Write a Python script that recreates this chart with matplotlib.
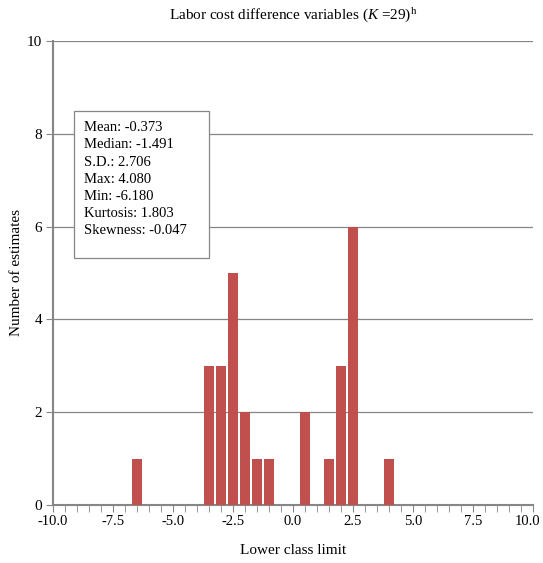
import numpy as np
import matplotlib.pyplot as plt
from matplotlib.patches import Rectangle
from matplotlib.ticker import MultipleLocator

# Histogram of labor cost difference estimates (lower class limits, 0.5 wide bins)
lower_limits = [-6.5, -3.5, -3.0, -2.5, -2.0, -1.5, -1.0, 0.5, 1.5, 2.0, 2.5, 4.0]
counts = [1, 3, 3, 5, 2, 1, 1, 2, 1, 3, 6, 1]
xticks = [-10.0, -7.5, -5.0, -2.5, 0.0, 2.5, 5.0, 7.5, 10.0]

stats_labels = ["Mean", "Median", "S.D.", "Max", "Min", "Kurtosis", "Skewness"]
stats_values = [-0.373, -1.491, 2.706, 4.080, -6.180, 1.803, -0.047]

plt.rcParams['font.family'] = ['Liberation Serif', 'DejaVu Serif']
plt.rcParams['mathtext.fontset'] = 'custom'
plt.rcParams['mathtext.rm'] = 'Liberation Serif'
plt.rcParams['mathtext.it'] = 'Liberation Serif:italic'

fig = plt.figure(figsize=(5.43, 5.63), dpi=100)
ax = fig.add_axes([53 / 543, 1 - 505 / 563, 480 / 543, 464 / 563])

ax.bar(lower_limits, counts, width=0.42, color="#C0504D", zorder=3)

# the last label is drawn separately, nudged left so it stays inside the figure
ax.set_xticks(xticks, [f"{v:.1f}" for v in xticks[:-1]] + [""])
ax.annotate(f"{xticks[-1]:.1f}", xy=(xticks[-1], 0), xycoords=("data", "axes fraction"),
            xytext=(-3.6, -7), textcoords="offset points", ha="center", va="top",
            fontsize=10.5, annotation_clip=False)
ax.xaxis.set_minor_locator(MultipleLocator(0.5))
ax.yaxis.set_major_locator(MultipleLocator(2))
ax.set_xlim(-10, 10)
ax.set_ylim(0, 10)

axis_grey = "#868686"
ax.grid(axis="y", color=axis_grey, linewidth=0.9, zorder=0)
for side in ["top", "right"]:
    ax.spines[side].set_visible(False)
for side in ["left", "bottom"]:
    ax.spines[side].set_color(axis_grey)
    ax.spines[side].set_linewidth(1.5)
ax.tick_params(axis="x", which="both", direction="out", length=5, color=axis_grey,
               labelsize=10.5, pad=2)
ax.tick_params(axis="y", which="both", direction="out", length=5, color=axis_grey,
               labelsize=11, pad=3)

ax.set_xlabel("Lower class limit", fontsize=11, labelpad=12)
ax.set_ylabel("Number of estimates", fontsize=11)
ax.yaxis.set_label_coords(-30 / 480, 0.5)
fig.text(0.5 * (53 + 533) / 543, 1 - 16 / 563,
         r"Labor cost difference variables ($\mathit{K}$ =29)$^{\mathrm{h}}$",
         ha="center", va="center", fontsize=11)

# Summary statistics box
ax.add_patch(Rectangle((-9.125, 5.32), 5.625, 3.17, facecolor="white",
                       edgecolor=axis_grey, linewidth=0.9, zorder=4))
lines = []
for name, val in zip(stats_labels, stats_values):
    lines.append(f"{name}: {val:.3f}")
ax.text(-8.71, 8.27, "\n".join(lines), fontsize=10.5, va="top", ha="left",
        linespacing=1.42, zorder=5)

fig.savefig("out.png", dpi=100)
